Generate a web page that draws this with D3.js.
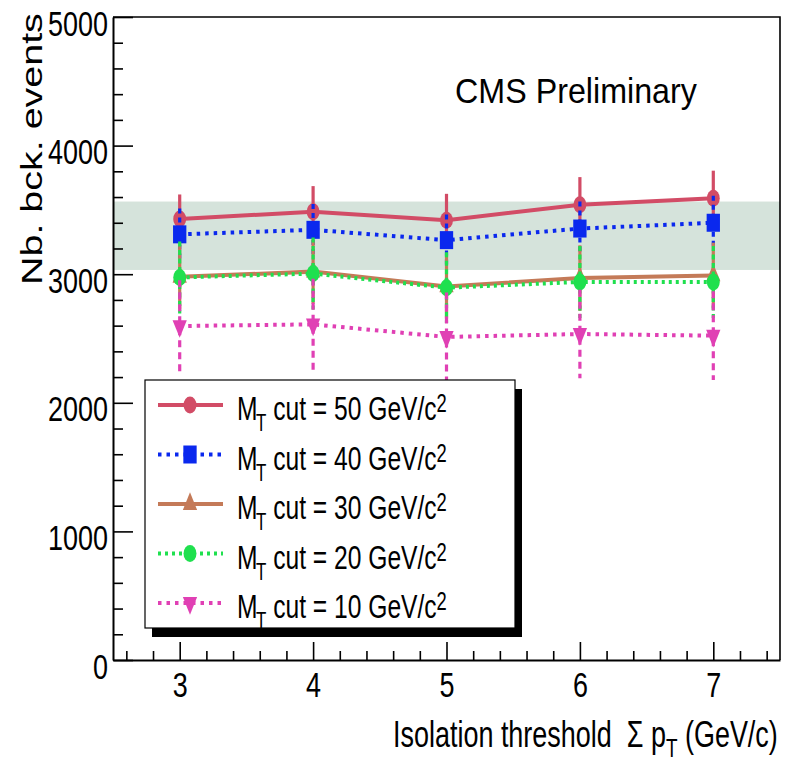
<!DOCTYPE html>
<html>
<head>
<meta charset="utf-8">
<script src="https://cdn.jsdelivr.net/npm/d3@7"></script>
<style>
  body { margin: 0; background: #fff; }
  svg { display: block; }
</style>
</head>
<body>
<svg id="chart" width="788" height="763"></svg>
<script>
// Isolation threshold values (GeV/c)
const thresholds = [3, 4, 5, 6, 7];

// Background event counts for each transverse-mass cut, with their errors
const mt50 = [3430, 3485, 3420, 3540, 3590];
const err50 = [190, 200, 205, 215, 215];
const mt40 = [3310, 3345, 3265, 3355, 3400];
const err40 = [200, 200, 200, 210, 210];
const mt30 = [2980, 3020, 2905, 2970, 2990];
const err30 = [250, 250, 250, 255, 255];
const mt20 = [2975, 3005, 2895, 2940, 2940];
const err20 = [280, 280, 275, 280, 280];
const mt10 = [2597, 2610, 2512, 2535, 2522];
const err10 = [355, 355, 345, 345, 345];

// Cut values in the legend
const cutLabels = ["50", "40", "30", "20", "10"];

// Reference band
const bandLow = 3033;
const bandHigh = 3565;

// Axis tick labels
const xTicks = [3, 4, 5, 6, 7];
const yTicks = [0, 1000, 2000, 3000, 4000, 5000];

const FONT = "'Liberation Sans', Arial, Helvetica, sans-serif";
const svg = d3.select("#chart");

const x = d3.scaleLinear().domain([2.5, 7.5]).range([113, 780]);
const y = d3.scaleLinear().domain([0, 5000]).range([660, 17]);
const [xL, xR] = x.range();
const [yB, yT] = y.range();

// Horizontally condensed text, fitted to a given width
function fittedText(parent, px, py, fontSize, width, build, opts = {}) {
  const g = parent.append("g");
  const t = g.append("text")
    .attr("font-family", FONT)
    .attr("font-size", fontSize)
    .attr("fill", "#000")
    .style("white-space", "pre");
  build(t);
  const w = t.node().getBBox().width;
  const s = width / w;
  const rot = opts.rotate ? ` rotate(${opts.rotate})` : "";
  g.attr("transform", `translate(${px},${py})${rot} scale(${s},1)`);
  return g;
}

// Shaded band
svg.append("rect")
  .attr("x", xL).attr("width", xR - xL)
  .attr("y", y(bandHigh)).attr("height", y(bandLow) - y(bandHigh))
  .attr("fill", "#d5e3db");

// Series styles
const series = [
  { vals: mt50, errs: err50, label: cutLabels[0], color: "#d24c66", dash: null, vdash: null, marker: "circle" },
  { vals: mt40, errs: err40, label: cutLabels[1], color: "#0a28ee", dash: "3.5,5", vdash: "5,4", marker: "square" },
  { vals: mt30, errs: err30, label: cutLabels[2], color: "#c47a58", dash: null, vdash: null, marker: "triangleUp" },
  { vals: mt20, errs: err20, label: cutLabels[3], color: "#1fe04e", dash: "3,4", vdash: "5,3.5", marker: "circle" },
  { vals: mt10, errs: err10, label: cutLabels[4], color: "#e040b4", dash: "3.5,5", vdash: "7,5", marker: "triangleDown" }
];

function drawMarker(parent, kind, cx, cy, color) {
  let sym, size, extra = "", sx = 0.76;
  if (kind === "circle") { sym = d3.symbolCircle; size = Math.PI * 8.5 * 8.5; }
  else if (kind === "square") { sym = d3.symbolSquare; size = 18 * 18; sx = 0.74; }
  else { sym = d3.symbolTriangle; size = 180; sx = 0.7; if (kind === "triangleDown") extra = " rotate(180)"; }
  parent.append("path")
    .attr("d", d3.symbol().type(sym).size(size)())
    .attr("transform", `translate(${cx},${cy}) scale(${sx},1)${extra}`)
    .attr("fill", color);
}

const line = d3.line().x((d, i) => x(thresholds[i])).y(d => y(d));
const plot = svg.append("g");

series.forEach(s => {
  const g = plot.append("g");
  // error bars
  g.selectAll("line.err").data(s.vals).join("line")
    .attr("class", "err")
    .attr("x1", (d, i) => x(thresholds[i])).attr("x2", (d, i) => x(thresholds[i]))
    .attr("y1", (d, i) => y(d + s.errs[i])).attr("y2", (d, i) => y(d - s.errs[i]))
    .attr("stroke", s.color).attr("stroke-width", 3.2)
    .attr("stroke-dasharray", s.vdash);
  // connecting line
  g.append("path").datum(s.vals)
    .attr("d", line)
    .attr("fill", "none")
    .attr("stroke", s.color)
    .attr("stroke-width", 4)
    .attr("stroke-dasharray", s.dash);
  // markers
  s.vals.forEach((d, i) => drawMarker(g, s.marker, x(thresholds[i]), y(d), s.color));
});

// Axes
const axisStyle = sel => {
  sel.selectAll("line").attr("stroke", "#000").attr("stroke-width", 1.6);
  sel.selectAll(".domain").attr("stroke", "#000").attr("stroke-width", 2);
};

const yMinor = d3.range(0, 5001, 200).filter(v => v % 1000 !== 0);
const gyMinor = svg.append("g").attr("transform", `translate(${xL},0)`)
  .call(d3.axisLeft(y).tickValues(yMinor).tickSize(-10).tickFormat(""));
gyMinor.select(".domain").remove();
axisStyle(gyMinor);

const gy = svg.append("g").attr("transform", `translate(${xL},0)`)
  .call(d3.axisLeft(y).tickValues(yTicks).tickSize(-20).tickSizeOuter(0).tickPadding(5).tickFormat(d3.format("d")));
axisStyle(gy);
gy.selectAll(".tick text")
  .attr("font-family", FONT).attr("font-size", 35).attr("fill", "#000")
  .attr("dy", null).attr("y", 18)
  .attr("x", -5 / 0.77)
  .attr("transform", "scale(0.77,1)");

const xMinor = d3.range(2.6, 7.45, 0.2).filter(v => Math.abs(v - Math.round(v)) > 0.05);
const gxMinor = svg.append("g").attr("transform", `translate(0,${yB})`)
  .call(d3.axisBottom(x).tickValues(xMinor).tickSize(-9).tickFormat(""));
gxMinor.select(".domain").remove();
axisStyle(gxMinor);

const gx = svg.append("g").attr("transform", `translate(0,${yB})`)
  .call(d3.axisBottom(x).tickValues(xTicks).tickSize(-18).tickSizeOuter(0).tickFormat(d3.format("d")));
axisStyle(gx);
gx.selectAll(".tick text")
  .attr("font-family", FONT).attr("font-size", 35).attr("fill", "#000")
  .attr("dy", null).attr("y", 37).attr("x", 0)
  .attr("transform", "scale(0.77,1)");

// Frame top and right
svg.append("path")
  .attr("d", `M${xL},${yT}H${xR}V${yB}`)
  .attr("fill", "none").attr("stroke", "#000").attr("stroke-width", 1.6);

// Title text
fittedText(svg, 455, 103, 36, 242, t => t.text("CMS Preliminary"));

// Axis titles
fittedText(svg, 393, 747, 37, 385, t => {
  t.append("tspan").text("Isolation threshold  \u03A3 p");
  t.append("tspan").attr("font-size", 26).attr("dy", 10).text("T");
  t.append("tspan").attr("dy", -10).text(" (GeV/c)");
});

fittedText(svg, 42, 285, 29, 272, t => t.text("Nb. bck. events"), { rotate: -90 });

// Legend
const lg = { x: 145, y: 380, w: 370, h: 248 };
svg.append("rect")
  .attr("x", lg.x + 7).attr("y", lg.y + 9)
  .attr("width", lg.w).attr("height", lg.h)
  .attr("fill", "#000");
svg.append("rect")
  .attr("x", lg.x).attr("y", lg.y)
  .attr("width", lg.w).attr("height", lg.h)
  .attr("fill", "#fff").attr("stroke", "#000").attr("stroke-width", 1.2);

series.forEach((s, i) => {
  const ry = 405 + i * 49.5;
  svg.append("line")
    .attr("x1", 158).attr("x2", 223).attr("y1", ry).attr("y2", ry)
    .attr("stroke", s.color).attr("stroke-width", 4)
    .attr("stroke-dasharray", s.dash);
  drawMarker(svg, s.marker, 190, ry, s.color);
  fittedText(svg, 237, ry + 15, 33.5, 210, t => {
    t.append("tspan").text("M");
    t.append("tspan").attr("font-size", 23).attr("dy", 11).attr("dx", -2).text("T");
    t.append("tspan").attr("dy", -11).text(` cut = ${s.label} GeV/c`);
    t.append("tspan").attr("font-size", 25).attr("dy", -8).text("2");
  });
});
</script>
</body>
</html>
